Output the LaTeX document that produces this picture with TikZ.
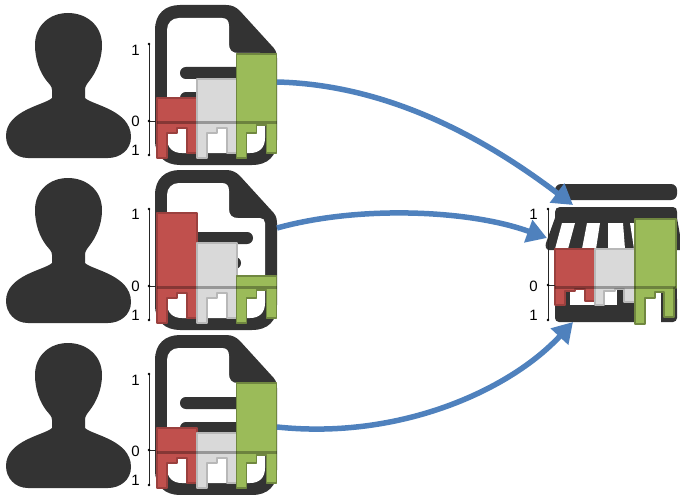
\documentclass[tikz,border=0pt]{standalone}
\usepackage{fontspec}
\setmainfont{Liberation Sans}
\usetikzlibrary{arrows.meta}
\definecolor{icon}{HTML}{333333}
\definecolor{cred}{HTML}{C0504D}
\definecolor{cgray}{HTML}{D9D9D9}
\definecolor{cgreen}{HTML}{9BBB59}
\definecolor{flow}{HTML}{4F81BD}
\tikzset{
  iconfill/.style={fill=icon,draw=none},
  redchair/.style={fill=cred,draw=cred!80!black,line width=1.2pt,line join=round},
  graychair/.style={fill=cgray,draw=black!28,line width=1.2pt,line join=round},
  greenchair/.style={fill=cgreen,draw=cgreen!72!black,line width=1.2pt,line join=round},
  band/.style={draw=black,opacity=.3,line width=3pt},
  axisline/.style={draw=black!85,line width=.7pt},
  axisdot/.style={fill=black,draw=none},
  tag/.style={font=\fontsize{15}{16}\selectfont,text=black,inner sep=0pt},
  flowarrow/.style={draw=flow,line width=5.5pt,-{Triangle[length=20pt,width=23pt]}},
}
% person silhouette
\newcommand{\personicon}{%
  \fill[iconfill] (68,13) .. controls (86,13) and (102,25) .. (102,45)
    .. controls (102,60) and (96,72) .. (90,80)
    .. controls (87,84) and (85,86) .. (85,90)
    -- (85,98) .. controls (92,105) and (131,110) .. (131,137)
    .. controls (131,150) and (120,158) .. (108,158)
    -- (28,158) .. controls (15,158) and (6,148) .. (6,136)
    .. controls (6,110) and (45,105) .. (52,98)
    -- (52,90) .. controls (52,86) and (49,84) .. (46,80)
    .. controls (40,72) and (35,60) .. (35,45)
    .. controls (35,25) and (50,13) .. (68,13) -- cycle;}
% document outline with two text lines
\newcommand{\docicon}{%
  \fill[iconfill] (155,30) .. controls (155,14) and (165,5) .. (180,5)
    -- (226,5) .. controls (232,5) and (236,7) .. (240,11)
    -- (271,45) .. controls (275,49) and (277,52) .. (277,58)
    -- (277,140) .. controls (277,156) and (268,165) .. (252,165)
    -- (180,165) .. controls (165,165) and (155,156) .. (155,140) -- cycle;
  \fill[white] (167,30) .. controls (167,23) and (172,18) .. (179,18)
    -- (222,18) .. controls (227,18) and (229,21) .. (229,26)
    -- (229,44) .. controls (229,50) and (232,53) .. (238,53)
    -- (260,53) .. controls (263,53) and (265,55) .. (265,58)
    -- (265,138) .. controls (265,148) and (259,153) .. (250,153)
    -- (182,153) .. controls (173,153) and (167,148) .. (167,138) -- cycle;
  \fill[iconfill,rounded corners=5.9pt] (180,67) rectangle (253,79);
  \fill[iconfill,rounded corners=5.9pt] (180,92) rectangle (241,104);}
% chair: x, top of back, style, y of the second step
\newcommand{\chair}[4]{%
  \path[#3] (#1,#2) -- (#1,158) -- ++(10,0) -- (#1+10,133) -- ++(10,0)
    -- (#1+20,#4) -- ++(10,0) -- (#1+30,153) -- ++(10,0) -- (#1+40,#2) -- cycle;}
\newcommand{\axisset}[7]{% name, top, zero, bottom, label y top, label y zero, label y bottom
  \draw[axisline] (149,#2) -- (149,#4);
  \draw[axisline] (149,#3) -- (157,#3);
  \fill[axisdot] (149,#2) circle (1.3);
  \fill[axisdot] (149,#3) circle (1.3);
  \fill[axisdot] (149,#4) circle (1.3);
  \node[tag] (#1a) at (135.5,#5) {1};
  \node[tag] (#1b) at (135.5,#6) {0};
  \node[tag] (#1c) at (135.5,#7) {1};}
\begin{document}
\begin{tikzpicture}[x=1pt,y=-1pt]
\useasboundingbox (0,0) rectangle (680,495);
% row 1
\personicon
\docicon
\axisset{p}{44}{121}{155}{50}{121}{150}
\chair{157}{98}{redchair}{128}
\chair{197}{79}{graychair}{128}
\chair{236.5}{54}{greenchair}{125}
\draw[band] (157,122.5) -- (277,122.5);
% row 2
\begin{scope}[shift={(0,165)}]
\personicon
\docicon
\axisset{q}{44}{121}{155}{49}{121}{150}
\chair{157}{48}{redchair}{128}
\chair{197}{78}{graychair}{128}
\chair{236.5}{111}{greenchair}{125}
\draw[band] (157,122.5) -- (277,122.5);
\end{scope}
% row 3
\begin{scope}[shift={(0,330)}]
\personicon
\docicon
\axisset{r}{44}{120}{155}{50}{121}{150}
\chair{157}{98}{redchair}{128}
\chair{197}{103}{graychair}{128}
\chair{236.5}{53}{greenchair}{125}
\draw[band] (157,122.5) -- (277,122.5);
\end{scope}
% store
\fill[iconfill,rounded corners=6pt] (555,184) rectangle (677,200);
\fill[iconfill] (560,207) -- (673,207) .. controls (676,207) and (677,209) .. (677,212)
  -- (677,218) -- (680,235) -- (680,250) -- (555,250) -- (549,250)
  .. controls (546,250) and (545,246) .. (546,243)
  -- (555,218) -- (555,212) .. controls (555,209) and (557,207) .. (560,207) -- cycle;
\fill[white] (562,223) -- (575,223) -- (568,249) -- (555,249) -- cycle;
\fill[white] (587,223) -- (600,223) -- (596,249) -- (582,249) -- cycle;
\fill[white] (608,223) -- (623,223) -- (625,249) -- (608,249) -- cycle;
\fill[white] (630,223) -- (636,223) -- (636,249) -- (634,249) -- cycle;
\fill[iconfill] (555,250) rectangle (677,317);
\fill[iconfill,rounded corners=4pt] (555,295) rectangle (677,322);
\fill[white] (570,288) rectangle (617,305);
\fill[white] (636,288) rectangle (661,323);
\path[redchair] (555,249) -- (555,305) -- (565,305) -- (565,291) -- (575,291) -- (575,289)
  -- (585,289) -- (585,301) -- (595,301) -- (595,249) -- cycle;
\path[graychair] (595,249) -- (595,305) -- (604,305) -- (604,291) -- (615,291) -- (615,289)
  -- (624,289) -- (624,302) -- (635,302) -- (635,249) -- cycle;
\path[greenchair] (635,219) -- (635,324) -- (645,324) -- (645,298) -- (655,298) -- (655,292)
  -- (664,292) -- (664,317) -- (674,317) -- (674,288) -- (676,288) -- (676,219) -- cycle;
\draw[band] (555,287.5) -- (676,287.5);
\draw[axisline] (548,209) -- (548,320);
\draw[axisline] (548,285) -- (555,285);
\fill[axisdot] (548,209) circle (1.3);
\fill[axisdot] (548,285) circle (1.3);
\fill[axisdot] (548,320) circle (1.3);
\node[tag] (sa) at (533.5,214) {1};
\node[tag] (sb) at (533.5,286) {0};
\node[tag] (sc) at (533.5,315) {1};
% connectors
\coordinate (d1) at (277,82);
\coordinate (d2) at (277,228);
\coordinate (d3) at (277,427);
\coordinate (s1) at (573,205);
\coordinate (s2) at (547,238);
\coordinate (s3) at (573,322);
\draw[flowarrow] (d1) .. controls (400,85) and (500,150) .. (s1);
\draw[flowarrow] (d2) .. controls (360,205) and (470,210) .. (s2);
\draw[flowarrow] (d3) .. controls (400,440) and (510,390) .. (s3);
\end{tikzpicture}
\end{document}
